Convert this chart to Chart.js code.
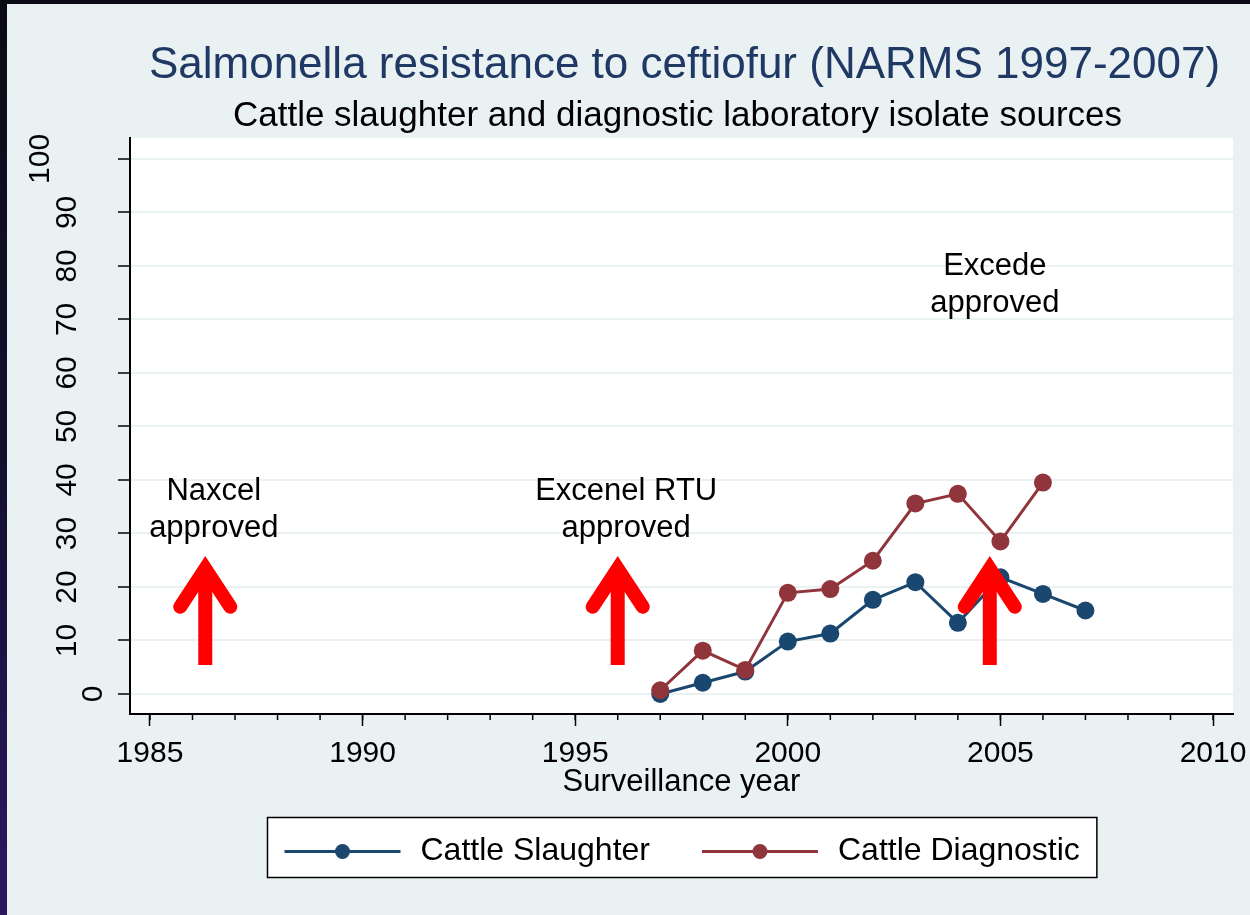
<!DOCTYPE html>
<html>
<head>
<meta charset="utf-8">
<script src="https://cdn.jsdelivr.net/npm/chart.js@4.4.0/dist/chart.umd.min.js"></script>
<style>
  html, body { margin: 0; padding: 0; }
  body {
    width: 1250px; height: 915px; overflow: hidden;
    background: linear-gradient(to bottom, #0b0b16 0%, #12102f 50%, #2c1662 100%);
  }
  #panel { position: absolute; left: 7px; top: 4px; width: 1243px; height: 911px; background: #e9f1f3; }
  canvas { display: block; }
</style>
</head>
<body>
<div id="panel"><canvas id="lineChart" width="1243" height="911"></canvas></div>
<script>
// Percent of isolates resistant to ceftiofur, by surveillance year
const slaughterYears = [1997, 1998, 1999, 2000, 2001, 2002, 2003, 2004, 2005, 2006, 2007];
const slaughterValues = [0, 2.1, 4.2, 9.8, 11.3, 17.6, 20.9, 13.3, 21.8, 18.7, 15.6];
const diagnosticYears = [1997, 1998, 1999, 2000, 2001, 2002, 2003, 2004, 2005, 2006];
const diagnosticValues = [0.7, 8.1, 4.5, 18.9, 19.6, 24.9, 35.6, 37.4, 28.5, 39.5];

// Axis ticks
const xTicks = [1985, 1990, 1995, 2000, 2005, 2010];
const xMinorTicks = [1985, 1986, 1987, 1988, 1989, 1990, 1991, 1992, 1993, 1994, 1995, 1996, 1997,
    1998, 1999, 2000, 2001, 2002, 2003, 2004, 2005, 2006, 2007, 2008, 2009, 2010];
const yTicks = [0, 10, 20, 30, 40, 50, 60, 70, 80, 90, 100];

// Drug approval markers (arrow from / to, in data units) and their notes
const approvalNotes = [['Naxcel', 'approved'], ['Excenel RTU', 'approved'], ['Excede', 'approved']];
const arrowYears = [1986.3, 1996.0, 2004.75];
const arrowFrom = [5.4, 5.4, 5.4];
const arrowTo = [23.4, 23.4, 23.4];
const noteYears = [1986.5, 1996.2, 2004.87];
const noteValues = [36.3, 36.3, 78.3];

const FONT = '"Liberation Sans", Arial, sans-serif';
Chart.defaults.font.family = FONT;

// Extra drawing: plot background, arrows, notes, titles, rotated y labels, minor ticks, legend box
const decorPlugin = {
    id: 'decor',
    beforeDraw(chart) {
        const { ctx, chartArea: a } = chart;
        ctx.save();
        ctx.fillStyle = '#ffffff';
        ctx.fillRect(a.left, a.top, a.right - a.left, a.bottom - a.top);
        ctx.restore();
    },
    afterDatasetsDraw(chart) {
        const { ctx } = chart;
        const x = chart.scales.x, y = chart.scales.y;
        ctx.save();
        ctx.strokeStyle = '#ff0000';
        ctx.lineWidth = 14;
        arrowYears.forEach((yr, i) => {
            const px = x.getPixelForValue(yr);
            const pBase = y.getPixelForValue(arrowFrom[i]);
            const pTip = y.getPixelForValue(arrowTo[i]);
            ctx.lineCap = 'butt';
            ctx.beginPath();
            ctx.moveTo(px, pBase);
            ctx.lineTo(px, pTip);
            ctx.stroke();
            ctx.lineCap = 'round';
            ctx.lineJoin = 'miter';
            ctx.beginPath();
            ctx.moveTo(px - 25, pTip + 38);
            ctx.lineTo(px, pTip);
            ctx.lineTo(px + 25, pTip + 38);
            ctx.stroke();
        });
        ctx.fillStyle = '#000000';
        ctx.font = '31px ' + FONT;
        ctx.textAlign = 'center';
        ctx.textBaseline = 'alphabetic';
        approvalNotes.forEach((lines, i) => {
            const px = x.getPixelForValue(noteYears[i]);
            const py = y.getPixelForValue(noteValues[i]);
            lines.forEach((line, j) => ctx.fillText(line, px, py + j * 37));
        });
        ctx.restore();
    },
    afterDraw(chart) {
        const { ctx, chartArea: a } = chart;
        const x = chart.scales.x, y = chart.scales.y;
        const cx = (a.left + a.right) / 2;
        ctx.save();

        // titles
        ctx.textAlign = 'center';
        ctx.textBaseline = 'alphabetic';
        ctx.fillStyle = '#1f3864';
        ctx.font = '44px ' + FONT;
        ctx.fillText('Salmonella resistance to ceftiofur (NARMS 1997-2007)', cx + 3, 74);
        ctx.fillStyle = '#000000';
        ctx.font = '35px ' + FONT;
        ctx.fillText('Cattle slaughter and diagnostic laboratory isolate sources', cx - 4, 122);

        // y tick labels, rotated
        const fs = 30;
        ctx.font = fs + 'px ' + FONT;
        y.ticks.forEach(t => {
            const label = String(t.value);
            const py = y.getPixelForValue(t.value);
            const lx = a.left - 12 - 26.5 * label.length;
            ctx.save();
            ctx.translate(lx + 0.358 * fs, py);
            ctx.rotate(-Math.PI / 2);
            ctx.fillText(label, 0, 0);
            ctx.restore();
        });

        // minor ticks on the x axis
        ctx.strokeStyle = '#000000';
        ctx.lineWidth = 1.5;
        xMinorTicks.forEach(v => {
            const px = x.getPixelForValue(v);
            ctx.beginPath();
            ctx.moveTo(px, a.bottom);
            ctx.lineTo(px, a.bottom + 6);
            ctx.stroke();
        });

        // legend
        ctx.font = '32px ' + FONT;
        const items = chart.data.datasets.map(ds => ({
            label: ds.label, color: ds.borderColor, w: ctx.measureText(ds.label).width
        }));
        const lineLen = 116, gap = 20, itemGap = 52, pad = 17;
        let total = pad * 2 + itemGap * (items.length - 1);
        items.forEach(it => { total += lineLen + gap + it.w; });
        const boxLeft = Math.round(cx - total / 2) + 0.5;
        const boxTop = 813.5, boxH = 60;
        ctx.fillStyle = '#ffffff';
        ctx.fillRect(boxLeft, boxTop, total, boxH);
        ctx.strokeStyle = '#000000';
        ctx.lineWidth = 1.5;
        ctx.strokeRect(boxLeft, boxTop, total, boxH);
        const my = boxTop + boxH / 2 + 4;
        let lx = boxLeft + pad;
        items.forEach(it => {
            ctx.strokeStyle = it.color;
            ctx.lineWidth = 3;
            ctx.beginPath();
            ctx.moveTo(lx, my);
            ctx.lineTo(lx + lineLen, my);
            ctx.stroke();
            ctx.fillStyle = it.color;
            ctx.beginPath();
            ctx.arc(lx + lineLen / 2, my, 7.5, 0, Math.PI * 2);
            ctx.fill();
            ctx.fillStyle = '#000000';
            ctx.textAlign = 'left';
            ctx.textBaseline = 'middle';
            ctx.fillText(it.label, lx + lineLen + gap, my);
            lx += lineLen + gap + it.w + itemGap;
        });
        ctx.restore();
    }
};

function toPoints(xs, ys) {
    return xs.map((v, i) => ({ x: v, y: ys[i] }));
}

const lineCtx = document.getElementById('lineChart').getContext('2d');
new Chart(lineCtx, {
    type: 'line',
    data: {
        datasets: [
            {
                label: 'Cattle Slaughter',
                data: toPoints(slaughterYears, slaughterValues),
                borderColor: '#1a476f',
                backgroundColor: '#1a476f',
                pointBackgroundColor: '#1a476f',
                borderWidth: 3,
                pointRadius: 9,
                pointBorderWidth: 0,
                order: 1
            },
            {
                label: 'Cattle Diagnostic',
                data: toPoints(diagnosticYears, diagnosticValues),
                borderColor: '#90353b',
                backgroundColor: '#90353b',
                pointBackgroundColor: '#90353b',
                borderWidth: 3,
                pointRadius: 9,
                pointBorderWidth: 0,
                order: 0
            }
        ]
    },
    options: {
        responsive: false,
        animation: false,
        devicePixelRatio: 1,
        layout: { padding: { left: 0, top: 134, right: 17, bottom: 111 } },
        plugins: {
            legend: { display: false },
            title: { display: false },
            tooltip: { enabled: false }
        },
        scales: {
            x: {
                type: 'linear',
                min: 1984.53,
                max: 2010.47,
                afterBuildTicks: scale => { scale.ticks = xTicks.map(v => ({ value: v })); },
                afterFit: scale => { scale.height = 90; scale.paddingLeft = 0; scale.paddingRight = 0; },
                ticks: {
                    autoSkip: false,
                    maxRotation: 0,
                    padding: 10,
                    color: '#000000',
                    font: { size: 30 },
                    callback: v => String(v)
                },
                grid: {
                    drawOnChartArea: false,
                    drawTicks: true,
                    tickLength: 12,
                    tickColor: '#000000',
                    tickWidth: 1.5
                },
                border: { display: true, color: '#000000', width: 2 },
                title: {
                    display: true,
                    text: 'Surveillance year',
                    color: '#000000',
                    font: { size: 31 },
                    padding: { top: 0, bottom: 3 }
                }
            },
            y: {
                type: 'linear',
                min: -3.74,
                max: 103.9,
                afterBuildTicks: scale => { scale.ticks = yTicks.map(v => ({ value: v })); },
                afterFit: scale => { scale.width = 123; scale.paddingTop = 0; scale.paddingBottom = 0; },
                ticks: { display: false },
                grid: {
                    color: '#e9f1f3',
                    lineWidth: 2,
                    drawTicks: true,
                    tickLength: 12,
                    tickColor: '#000000',
                    tickWidth: 1.5
                },
                border: { display: true, color: '#000000', width: 2 }
            }
        }
    },
    plugins: [decorPlugin]
});
</script>
</body>
</html>
